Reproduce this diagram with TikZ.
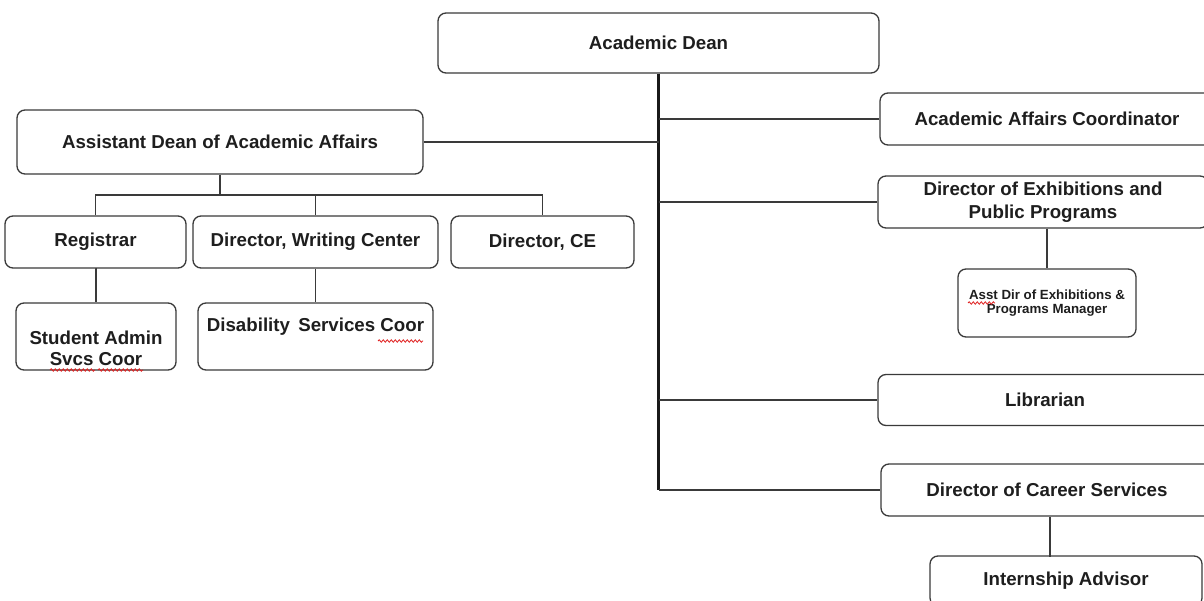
\documentclass[tikz,border=0pt]{standalone}
\usepackage{fontspec}
\setmainfont{Liberation Sans}
\usetikzlibrary{decorations.pathmorphing}
\definecolor{ink}{HTML}{1E1E1E}
\definecolor{edge}{HTML}{3A3A3A}
\definecolor{spell}{HTML}{E02020}
\tikzset{
  box/.style={draw=edge, line width=1.3pt, rounded corners=8pt, fill=white,
    inner sep=0pt, align=center, text=ink,
    font=\fontsize{18.7}{23}\selectfont\bfseries},
  smallbox/.style={box, font=\fontsize{13.3}{14.5}\selectfont\bfseries},
  label/.style={inner sep=0pt, align=center, text=ink,
    font=\fontsize{18.7}{21}\selectfont\bfseries},
  link/.style={draw=edge, line width=1.5pt},
  trunk/.style={draw=black!90, line width=2.6pt},
  squiggle/.style={draw=spell, line width=0.8pt,
    decorate, decoration={snake, segment length=4pt, amplitude=1.2pt}}
}
\begin{document}
\begin{tikzpicture}[x=1pt, y=-1pt]
  \useasboundingbox (0,0) rectangle (1204,601);
  \clip (0,0) rectangle (1204,601);

  % top of the chart
  \node[box, minimum width=441pt, minimum height=60pt] (dean) at (658.5,43) {Academic Dean};

  % reports on the right-hand side
  \node[box, minimum width=334pt, minimum height=52pt] (aac) at (1047,119) {Academic Affairs Coordinator};
  \node[box, minimum width=330pt, minimum height=52pt] (dep) at (1043,202) {Director of Exhibitions and\\Public Programs};
  \node[smallbox, minimum width=178pt, minimum height=68pt] (adep) at (1047,303) {Asst Dir of Exhibitions \&\\Programs Manager};
  \node[box, minimum width=334pt, minimum height=51pt] (lib) at (1045,400) {Librarian};
  \node[box, minimum width=332pt, minimum height=52pt] (dcs) at (1047,490) {Director of Career Services};
  \node[box, minimum width=272pt, minimum height=50pt] (intern) at (1066,581) {Internship Advisor};

  % left-hand branch
  \node[box, minimum width=406pt, minimum height=64pt] (asst) at (220,142) {Assistant Dean of Academic Affairs};
  \node[box, minimum width=181pt, minimum height=52pt] (reg) at (95.5,242) {Registrar};
  \node[box, minimum width=245pt, minimum height=52pt] (dwc) at (315.5,242) {Director, Writing Center};
  \node[box, minimum width=183pt, minimum height=52pt] (dce) at (542.5,242) {Director, CE};
  \node[box, minimum width=160pt, minimum height=67pt] (sas) at (96,336.5) {};
  \node[label] (sastext) at (96,348) {Student Admin\\Svcs Coor};
  \node[box, minimum width=235pt, minimum height=67pt] (dsc) at (315.5,336.5) {};
  \node[label] (dsctext) at (315.5,327) {Disability\, Services Coor};

  % connectors from the dean
  \draw[trunk] (dean.south) -- (dean.south |- dcs.west);
  \draw[link] (dean.south |- dcs.west) -- (dcs.west);
  \draw[link] (dean.south |- aac.west) -- (aac.west);
  \draw[link] (dean.south |- dep.west) -- (dep.west);
  \draw[link] (dean.south |- lib.west) -- (lib.west);
  \draw[link] (asst.east) -- (dean.south |- asst.east);
  \draw[link] (dep.south -| adep.north) -- (adep.north);
  \draw[link] (dcs.south -| intern.north) ++(-16,0) -- ++(0,40);

  % connectors under the assistant dean
  \coordinate (bus) at (96,195);
  \draw[link] (asst.south) -- (asst.south |- bus);
  \draw[link] (reg.north) -- (reg.north |- bus) -- (dce.north |- bus) -- (dce.north);
  \draw[link] (dwc.north) -- (dwc.north |- bus);
  \draw[link] (reg.south) -- (reg.south -| sas.north) -- (sas.north);
  \draw[link] (dwc.south) -- (dsc.north);

  % spelling marks under words
  \draw[squiggle] (50,370) -- (95,370);
  \draw[squiggle] (98,370) -- (143,370);
  \draw[squiggle] (378,341) -- (423,341);
  \draw[squiggle] (968,303) -- (995,303);
\end{tikzpicture}
\end{document}
